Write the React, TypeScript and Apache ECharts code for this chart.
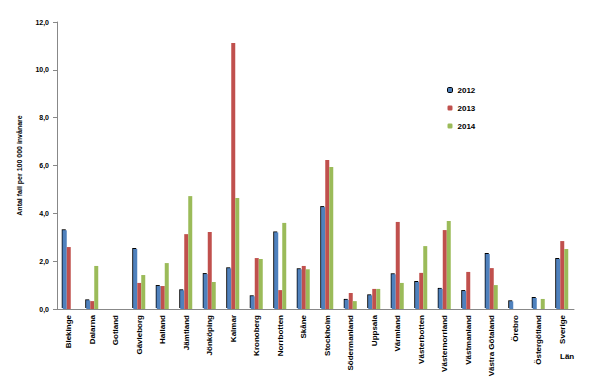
import React, { useEffect, useRef } from "react";
import * as echarts from "echarts";

const categories = [
  "Blekinge", "Dalarna", "Gotland", "Gävleborg", "Halland", "Jämtland", "Jönköping",
  "Kalmar", "Kronoberg", "Norrbotten", "Skåne", "Stockholm", "Södermanland", "Uppsala",
  "Värmland", "Västerbotten", "Västernorrland", "Västmanland", "Västra Götaland",
  "Örebro", "Östergötland", "Sverige",
];
const values2012 = [3.29, 0.36, null, 2.51, 0.96, 0.78, 1.46, 1.70, 0.53, 3.20, 1.66, 4.26, 0.38, 0.57, 1.45, 1.13, 0.84, 0.75, 2.30, 0.32, 0.46, 2.09];
const values2013 = [2.59, 0.33, null, 1.09, 0.96, 3.13, 3.22, 11.12, 2.13, 0.79, 1.80, 6.23, 0.67, 0.84, 3.64, 1.51, 3.30, 1.55, 1.71, null, null, 2.84];
const values2014 = [null, 1.80, null, 1.42, 1.92, 4.72, 1.13, 4.64, 2.09, 3.60, 1.66, 5.94, 0.33, 0.84, 1.09, 2.63, 3.68, null, 1.00, null, 0.42, 2.51];
const yTicks = { min: 0, max: 12, interval: 2 };

const FONT = "Liberation Sans, Arial, sans-serif";

export default function App() {
  const ref = useRef<HTMLDivElement>(null);
  useEffect(() => {
    if (!ref.current) return;
    const chart = echarts.init(ref.current, null, { renderer: "svg" });
    const bar = (name: string, data: any[], color: string, extra: any = {}) => ({
      name,
      type: "bar",
      data,
      barWidth: 4,
      barGap: "0%",
      itemStyle: { color, ...extra },
    });
    chart.setOption({
      animation: false,
      backgroundColor: "#ffffff",
      textStyle: { fontFamily: FONT },
      grid: { left: 57, right: 20, top: 22, bottom: 79, containLabel: false },
      legend: {
        orient: "vertical",
        left: 442,
        top: 81,
        itemWidth: 5,
        itemHeight: 5,
        itemGap: 10,
        textStyle: { fontSize: 8, fontWeight: "bold", color: "#000", fontFamily: FONT },
        data: [
          { name: "2012", itemStyle: { borderColor: "#000", borderWidth: 1 } },
          { name: "2013" },
          { name: "2014" },
        ],
      },
      xAxis: {
        type: "category",
        data: categories,
        axisLine: { lineStyle: { color: "#888", width: 1 } },
        axisTick: { show: false },
        axisLabel: {
          rotate: 90,
          interval: 0,
          fontSize: 8,
          fontWeight: "bold",
          color: "#000",
          margin: 6,
          fontFamily: FONT,
        },
      },
      yAxis: {
        type: "value",
        min: yTicks.min,
        max: yTicks.max,
        interval: yTicks.interval,
        name: "Antal fall per 100 000 invånare",
        nameLocation: "middle",
        nameRotate: 90,
        nameGap: 34,
        nameTextStyle: { fontSize: 7, fontWeight: "bold", color: "#000", fontFamily: FONT },
        splitLine: { show: false },
        axisLine: { show: true, lineStyle: { color: "#888", width: 1 } },
        axisTick: { show: true, length: 4, lineStyle: { color: "#888" } },
        axisLabel: {
          fontSize: 7,
          fontWeight: "bold",
          color: "#000",
          margin: 8,
          formatter: (v: number) => v.toFixed(1).replace(".", ","),
        },
      },
      graphic: [
        {
          type: "text",
          left: 560,
          top: 352,
          style: { text: "Län", fontSize: 8, fontWeight: "bold", fill: "#000", fontFamily: FONT },
        },
      ],
      series: [
        bar("2012", values2012, "#4f81bd", {
          shadowColor: "#000",
          shadowBlur: 0,
          shadowOffsetX: -1,
          shadowOffsetY: -1,
        }),
        bar("2013", values2013, "#c0504d"),
        bar("2014", values2014, "#9bbb59"),
      ],
    });
    return () => chart.dispose();
  }, []);
  return (
    <div
      style={{
        position: "absolute",
        left: 0,
        top: 0,
        width: 594,
        height: 388,
        boxSizing: "border-box",
        border: "1px solid #888",
        background: "#fff",
      }}
    >
      <div ref={ref} style={{ position: "absolute", left: -1, top: -1, width: 594, height: 388 }} />
    </div>
  );
}
